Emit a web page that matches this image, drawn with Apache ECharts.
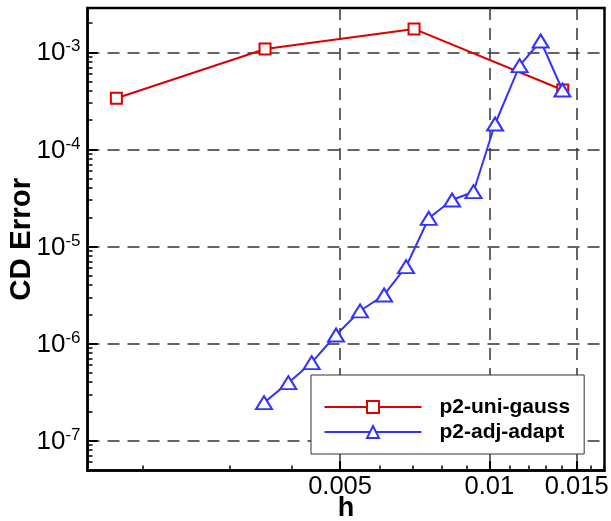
<!DOCTYPE html>
<html><head><meta charset="utf-8">
<script src="https://cdn.jsdelivr.net/npm/echarts@6/dist/echarts.min.js"></script>
<style>html,body{margin:0;padding:0;background:#fff}#c{width:611px;height:521px}</style>
</head><body><div id="c"></div>
<script>
const seriesNames = ['p2-uni-gauss', 'p2-adj-adapt'];
const uniGaussH = [0.00177, 0.00353, 0.00705, 0.01406];
const uniGaussErr = [3.36e-4, 1.08e-3, 1.74e-3, 4.09e-4];
const adjAdaptH = [0.003513, 0.003933, 0.004383, 0.004908, 0.005487, 0.006134, 0.006793, 0.007548, 0.008411, 0.009292, 0.01027, 0.01151, 0.01269, 0.01404];
const adjAdaptErr = [2.46e-7, 3.96e-7, 6.36e-7, 1.226e-6, 2.167e-6, 3.166e-6, 6.19e-6, 1.952e-5, 3.013e-5, 3.667e-5, 1.826e-4, 7.28e-4, 1.307e-3, 4.09e-4];
const xMajorTicks = [0.005, 0.01, 0.015];
const xMinorTicks = [0.002, 0.003, 0.004, 0.006, 0.007, 0.008, 0.009, 0.011, 0.012, 0.013, 0.014, 0.016, 0.017];
const yMajorTicks = [1e-7, 1e-6, 1e-5, 1e-4, 1e-3];
const yMinorTicks = [6e-8, 7e-8, 8e-8, 9e-8,
  2e-7, 3e-7, 4e-7, 5e-7, 6e-7, 7e-7, 8e-7, 9e-7,
  2e-6, 3e-6, 4e-6, 5e-6, 6e-6, 7e-6, 8e-6, 9e-6,
  2e-5, 3e-5, 4e-5, 5e-5, 6e-5, 7e-5, 8e-5, 9e-5,
  2e-4, 3e-4, 4e-4, 5e-4, 6e-4, 7e-4, 8e-4, 9e-4,
  2e-3];
const xRange = [0.001548, 0.01707];
const yRange = [4.93e-8, 2.859e-3];
const xName = 'h';
const yName = 'CD Error';

const FONT = 'Liberation Sans, Arial, sans-serif';
const RED = '#dd0000', BLUE = '#3333ff';

const zip = (a, b) => a.map((v, i) => [v, b[i]]);

const chart = echarts.init(document.getElementById('c'), null, {renderer: 'canvas'});
chart.setOption({
  animation: false,
  backgroundColor: '#fff',
  grid: {left: 87.5, right: 6.5, top: 8, bottom: 50.5, show: true, borderColor: '#000', borderWidth: 2.5, outerBoundsMode: 'none', containLabel: false},
  legend: {
    orient: 'vertical', left: 311, top: 375,
    padding: [21, 14, 11, 12.5], itemGap: 3, itemWidth: 97, itemHeight: 15,
    backgroundColor: '#fff', borderColor: '#333', borderWidth: 1, borderRadius: 0,
    textStyle: {fontFamily: FONT, fontSize: 21, fontWeight: 'bold', color: '#000', padding: [0, 0, 0, 13], lineHeight: 22},
    data: seriesNames
  },
  xAxis: [{
    type: 'log', logBase: 10, min: xRange[0], max: xRange[1], position: 'bottom',
    name: xName, nameLocation: 'middle', nameGap: 25, nameMoveOverlap: false,
    nameTextStyle: {fontFamily: FONT, fontSize: 27, fontWeight: 'bold', color: '#000'},
    axisLine: {show: true, onZero: false, lineStyle: {color: '#000', width: 2.5}},
    axisTick: {show: true, inside: true, length: 10, customValues: xMajorTicks, lineStyle: {color: '#000', width: 2}},
    axisLabel: {show: true, customValues: xMajorTicks, margin: 3, fontFamily: FONT, fontSize: 25.5, color: '#000',
      formatter: v => String(parseFloat(Number(v).toPrecision(3)))},
    splitLine: {show: true, lineStyle: {color: '#333', width: 1.5, type: [12, 8]}},
    minorTick: {show: false}, minorSplitLine: {show: false}
  }, {
    type: 'log', logBase: 10, min: xRange[0], max: xRange[1], position: 'bottom', gridIndex: 0,
    axisLine: {show: false, onZero: false},
    axisTick: {show: true, inside: true, length: 5, customValues: xMinorTicks, lineStyle: {color: '#000', width: 1.5}},
    axisLabel: {show: false}, splitLine: {show: false}
  }],
  yAxis: [{
    type: 'log', logBase: 10, min: yRange[0], max: yRange[1], position: 'left',
    name: yName, nameLocation: 'middle', nameGap: 51, nameRotate: 90, nameMoveOverlap: false,
    nameTextStyle: {fontFamily: FONT, fontSize: 29.5, fontWeight: 'bold', color: '#000'},
    axisLine: {show: true, onZero: false, lineStyle: {color: '#000', width: 2.5}},
    axisTick: {show: true, inside: true, length: 10, customValues: yMajorTicks, lineStyle: {color: '#000', width: 2}},
    axisLabel: {show: true, customValues: yMajorTicks, margin: 7,
      formatter: v => '{b|10}{s|' + Math.round(Math.log10(v)) + '}',
      rich: {
        b: {fontFamily: FONT, fontSize: 26, color: '#000', lineHeight: 28, verticalAlign: 'bottom'},
        s: {fontFamily: FONT, fontSize: 17, color: '#000', lineHeight: 17, verticalAlign: 'top'}
      }},
    splitLine: {show: true, lineStyle: {color: '#333', width: 1.5, type: [12, 8]}},
    minorTick: {show: false}, minorSplitLine: {show: false}
  }, {
    type: 'log', logBase: 10, min: yRange[0], max: yRange[1], position: 'left', gridIndex: 0,
    axisLine: {show: false, onZero: false},
    axisTick: {show: true, inside: true, length: 5, customValues: yMinorTicks, lineStyle: {color: '#000', width: 1.5}},
    axisLabel: {show: false}, splitLine: {show: false}
  }],
  series: [{
    name: seriesNames[0], type: 'line', xAxisIndex: 0, yAxisIndex: 0,
    data: zip(uniGaussH, uniGaussErr),
    symbol: 'emptyRect', symbolSize: 11,
    lineStyle: {color: RED, width: 2},
    itemStyle: {color: RED, borderColor: RED, borderWidth: 2},
    z: 3
  }, {
    name: seriesNames[1], type: 'line', xAxisIndex: 0, yAxisIndex: 0,
    data: zip(adjAdaptH, adjAdaptErr),
    symbol: 'emptyTriangle', symbolSize: [16, 13],
    lineStyle: {color: BLUE, width: 2},
    itemStyle: {color: BLUE, borderColor: BLUE, borderWidth: 2},
    z: 4
  }]
});
</script>
</body></html>
